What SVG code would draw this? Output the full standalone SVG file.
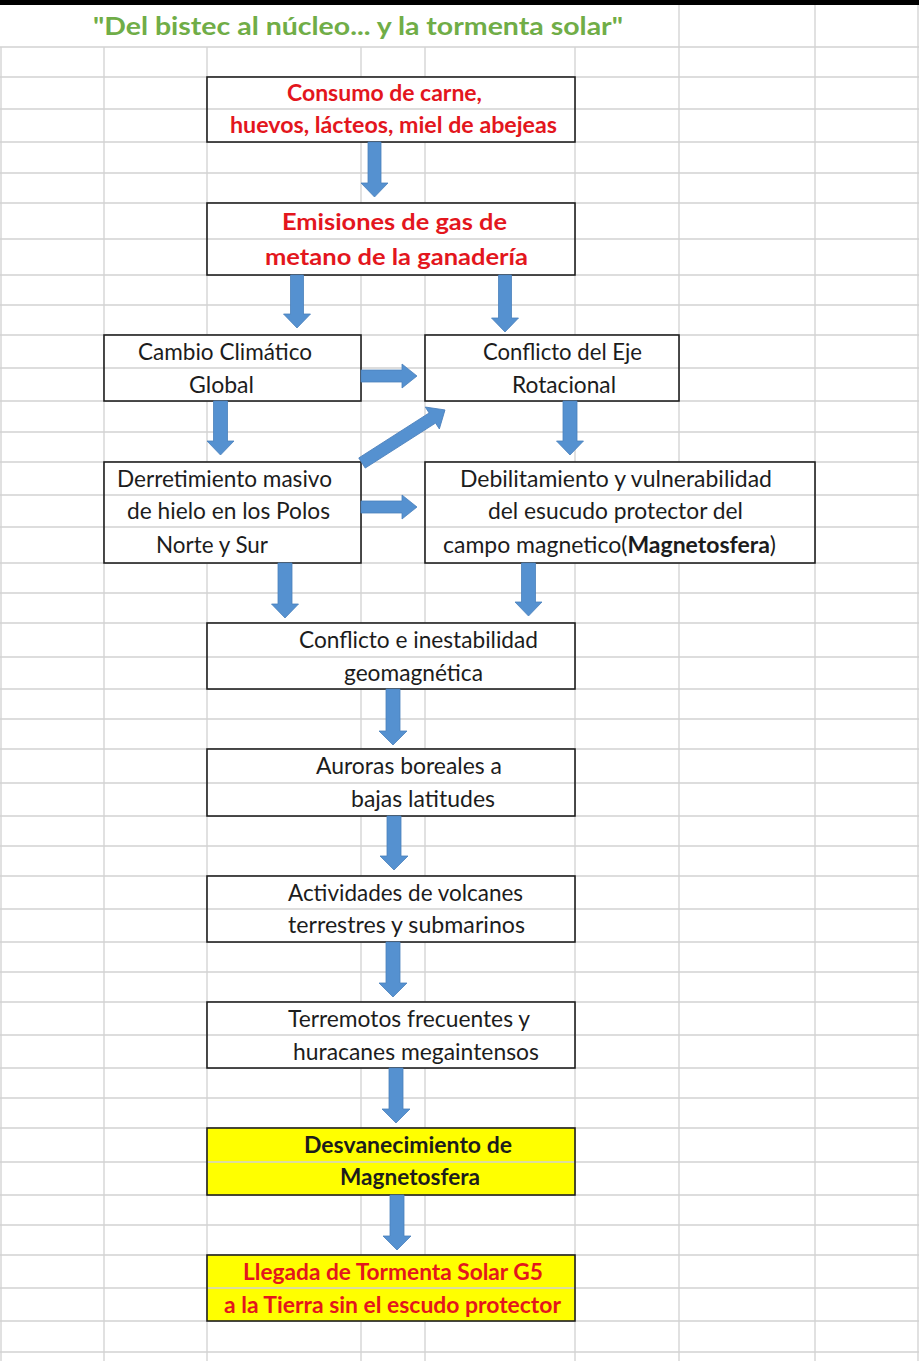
<svg xmlns="http://www.w3.org/2000/svg" width="919" height="1361" viewBox="0 0 919 1361">
<style>
.g{stroke:#d2d2d2;stroke-width:1.3;fill:none}
.bfill{fill:#fff;stroke:none}
.yfill{fill:#ffff00;stroke:none}
.bord{fill:none;stroke:#1e1e1e;stroke-width:1.6}
text{font-family:Lato,"Open Sans","Liberation Sans",sans-serif;fill:#1c1c1c;font-size:22.5px}
.red{fill:#e3161d;font-weight:bold}
.b{font-weight:bold}
.title{fill:#70ad47;font-weight:bold;font-size:24px}
.arr{fill:#5591d0;stroke:#4a80bb;stroke-width:0.8}
</style>
<rect x="0" y="0" width="919" height="1361" fill="#fff"/>
<g id="grid">
<path class="g" d="M1,47V1361M104,47V1361M207,47V1361M361,47V1361M425,47V1361M575,47V1361M679,5V1361M815,5V1361M918,5V1361"/>
<path class="g" d="M0,47H919M0,77H919M0,109H919M0,142H919M0,173H919M0,203H919M0,239H919M0,275H919M0,305H919M0,335H919M0,368H919M0,401H919M0,432H919M0,462H919M0,495H919M0,527H919M0,563H919M0,593H919M0,623H919M0,657H919M0,689H919M0,719H919M0,749H919M0,783H919M0,816H919M0,846H919M0,876H919M0,909H919M0,942H919M0,972H919M0,1002H919M0,1035H919M0,1068H919M0,1098H919M0,1128H919M0,1162H919M0,1195H919M0,1225H919M0,1255H919M0,1288H919M0,1321H919M0,1352H919"/>
</g>
<rect x="0" y="0" width="919" height="5" fill="#000"/>
<g id="title">
<text class="title" x="93" y="35" textLength="530" lengthAdjust="spacingAndGlyphs">"Del bistec al núcleo... y la tormenta solar"</text>
</g>
<g id="n1">
<rect class="bfill" x="207" y="77" width="368" height="65"/>
<path class="g" d="M207,109H575"/>
<rect class="bord" x="207" y="77" width="368" height="65"/>
<text class="red" font-size="21.5" x="287" y="101" textLength="195" lengthAdjust="spacingAndGlyphs">Consumo de carne,</text>
<text class="red" font-size="21.5" x="230" y="133" textLength="327" lengthAdjust="spacingAndGlyphs">huevos, lácteos, miel de abejeas</text>
</g>
<g id="n2">
<rect class="bfill" x="207" y="203" width="368" height="72"/>
<path class="g" d="M207,239H575"/>
<rect class="bord" x="207" y="203" width="368" height="72"/>
<text class="red" font-size="24.5" x="282" y="230" textLength="225" lengthAdjust="spacingAndGlyphs">Emisiones de gas de</text>
<text class="red" font-size="24.5" x="265" y="265" textLength="263" lengthAdjust="spacingAndGlyphs">metano de la ganadería</text>
</g>
<g id="n3">
<rect class="bfill" x="104" y="335" width="257" height="66"/>
<path class="g" d="M104,368H361"/>
<rect class="bord" x="104" y="335" width="257" height="66"/>
<text x="138" y="360" textLength="174" lengthAdjust="spacingAndGlyphs">Cambio Climático</text>
<text x="189" y="393" textLength="65" lengthAdjust="spacingAndGlyphs">Global</text>
</g>
<g id="n4">
<rect class="bfill" x="425" y="335" width="254" height="66"/>
<path class="g" d="M425,368H679"/>
<rect class="bord" x="425" y="335" width="254" height="66"/>
<text x="483" y="360" textLength="159" lengthAdjust="spacingAndGlyphs">Conflicto del Eje</text>
<text x="512" y="393" textLength="104" lengthAdjust="spacingAndGlyphs">Rotacional</text>
</g>
<g id="n5">
<rect class="bfill" x="104" y="462" width="257" height="101"/>
<path class="g" d="M104,495H361M104,527H361"/>
<rect class="bord" x="104" y="462" width="257" height="101"/>
<text x="117" y="487" textLength="215" lengthAdjust="spacingAndGlyphs">Derretimiento masivo</text>
<text x="127" y="519" textLength="203" lengthAdjust="spacingAndGlyphs">de hielo en los Polos</text>
<text x="156" y="553" textLength="112" lengthAdjust="spacingAndGlyphs">Norte y Sur</text>
</g>
<g id="n6">
<rect class="bfill" x="425" y="462" width="390" height="101"/>
<path class="g" d="M425,495H815M425,527H815"/>
<rect class="bord" x="425" y="462" width="390" height="101"/>
<text x="460" y="487" textLength="312" lengthAdjust="spacingAndGlyphs">Debilitamiento y vulnerabilidad</text>
<text x="488" y="519" textLength="255" lengthAdjust="spacingAndGlyphs">del esucudo protector del</text>
<text x="443" y="553" textLength="333" lengthAdjust="spacingAndGlyphs">campo magnetico(<tspan class="b">Magnetosfera</tspan>)</text>
</g>
<g id="n7">
<rect class="bfill" x="207" y="623" width="368" height="66"/>
<path class="g" d="M207,657H575"/>
<rect class="bord" x="207" y="623" width="368" height="66"/>
<text x="299" y="648" textLength="239" lengthAdjust="spacingAndGlyphs">Conflicto e inestabilidad</text>
<text x="344" y="681" textLength="139" lengthAdjust="spacingAndGlyphs">geomagnética</text>
</g>
<g id="n8">
<rect class="bfill" x="207" y="749" width="368" height="67"/>
<path class="g" d="M207,783H575"/>
<rect class="bord" x="207" y="749" width="368" height="67"/>
<text x="316" y="774" textLength="186" lengthAdjust="spacingAndGlyphs">Auroras boreales a</text>
<text x="351" y="807" textLength="144" lengthAdjust="spacingAndGlyphs">bajas latitudes</text>
</g>
<g id="n9">
<rect class="bfill" x="207" y="876" width="368" height="66"/>
<path class="g" d="M207,909H575"/>
<rect class="bord" x="207" y="876" width="368" height="66"/>
<text x="288" y="901" textLength="235" lengthAdjust="spacingAndGlyphs">Actividades de volcanes</text>
<text x="288" y="933" textLength="237" lengthAdjust="spacingAndGlyphs">terrestres y submarinos</text>
</g>
<g id="n10">
<rect class="bfill" x="207" y="1002" width="368" height="66"/>
<path class="g" d="M207,1035H575"/>
<rect class="bord" x="207" y="1002" width="368" height="66"/>
<text x="288" y="1027" textLength="242" lengthAdjust="spacingAndGlyphs">Terremotos frecuentes y</text>
<text x="293" y="1060" textLength="246" lengthAdjust="spacingAndGlyphs">huracanes megaintensos</text>
</g>
<g id="n11">
<rect class="yfill" x="207" y="1128" width="368" height="67"/>
<path class="g" d="M207,1162H575"/>
<rect class="bord" x="207" y="1128" width="368" height="67"/>
<text class="b" font-size="21.5" x="304" y="1153" textLength="208" lengthAdjust="spacingAndGlyphs">Desvanecimiento de</text>
<text class="b" font-size="21.5" x="340" y="1185" textLength="140" lengthAdjust="spacingAndGlyphs">Magnetosfera</text>
</g>
<g id="n12">
<rect class="yfill" x="207" y="1255" width="368" height="66"/>
<path class="g" d="M207,1288H575"/>
<rect class="bord" x="207" y="1255" width="368" height="66"/>
<text class="red" font-size="21.5" x="243" y="1280" textLength="300" lengthAdjust="spacingAndGlyphs">Llegada de Tormenta Solar G5</text>
<text class="red" font-size="21.5" x="224" y="1313" textLength="337" lengthAdjust="spacingAndGlyphs">a la Tierra sin el escudo protector</text>
</g>
<g id="connectors">
<path class="arr" d="M368,142H381V183H388L374.5,197L361,183H368Z"/>
<path class="arr" d="M290.5,275H303.5V314H310.5L297,328L283.5,314H290.5Z"/>
<path class="arr" d="M498.5,275H511.5V318H518.5L505,332L491.5,318H498.5Z"/>
<path class="arr" d="M361,370H402V364L417,376L402,388V382H361Z"/>
<path class="arr" d="M213.5,401H227.5V441H234L220.5,455L207,441H213.5Z"/>
<path class="arr" d="M563,401H577V441H583.5L570,455L556.5,441H563Z"/>
<path class="arr" d="M361,501H402V495L417,507L402,519V513H361Z"/>
<path class="arr" transform="translate(362,463) rotate(-32.6)" d="M0,-6H83.5V-13L98.5,0L83.5,13V6H0Z"/>
<path class="arr" d="M278,563H292V604H298.5L285,618L271.5,604H278Z"/>
<path class="arr" d="M521.5,563H535.5V602H542L528.5,616L515,602H521.5Z"/>
<path class="arr" d="M386,689H400V731H407L393,745L379,731H386Z"/>
<path class="arr" d="M387,816H401V856H408L394,870L380,856H387Z"/>
<path class="arr" d="M386,942H400V983H407L393,997L379,983H386Z"/>
<path class="arr" d="M389,1068H403V1109H410L396,1123L382,1109H389Z"/>
<path class="arr" d="M390,1195H404V1236H411L397,1250L383,1236H390Z"/>
</g>
</svg>
